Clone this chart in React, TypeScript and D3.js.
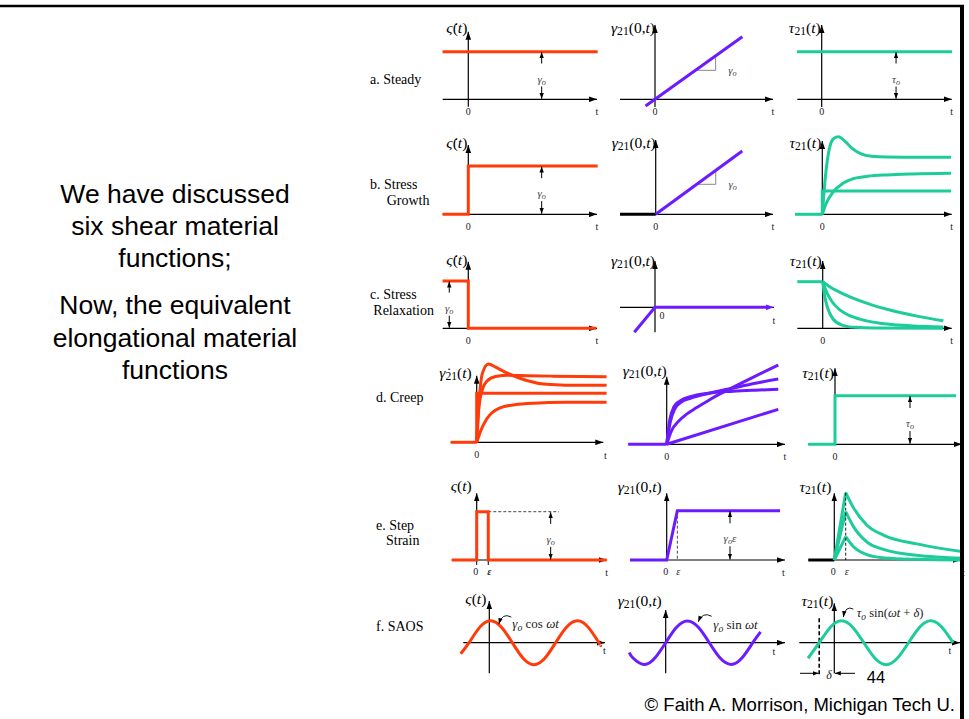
import React from 'react';
import * as d3 from 'd3';

type Pt = [number, number];
type Part = { s: string; i?: boolean; sub?: boolean };
type Lay = { ox: number; x0: number; x1: number; oy: number; yTop: number; yBot: number; H: number };

const RED = '#ff3b0a';
const PURPLE = '#6c1bff';
const GREEN = '#1dcb9b';
const SERIF = '"Liberation Serif", "Times New Roman", serif';
const SANS = '"Liberation Sans", Arial, sans-serif';

// ---------------- text ----------------
const leftBlock1 = ['We have discussed', 'six shear material', 'functions;'];
const leftBlock2 = ['Now, the equivalent', 'elongational material', 'functions'];
const copyright = '© Faith A. Morrison, Michigan Tech U.';
const pageNumber = '44';
const rowLabels = [['a. Steady'], ['b. Stress', 'Growth'], ['c. Stress', 'Relaxation'], ['d. Creep'], ['e. Step', 'Strain'], ['f. SAOS']];
const tickZero = '0';
const tickT = 't';
const tickEps = 'ε';

const lblSigDot: Part[] = [{ s: 'ς̇', i: true }, { s: '(' }, { s: 't', i: true }, { s: ')' }];
const lblSig: Part[] = [{ s: 'ς', i: true }, { s: '(' }, { s: 't', i: true }, { s: ')' }];
const lblGam: Part[] = [{ s: 'γ', i: true }, { s: '21', sub: true }, { s: '(0,' }, { s: 't', i: true }, { s: ')' }];
const lblGamDot: Part[] = [{ s: 'γ̇', i: true }, { s: '21', sub: true }, { s: '(' }, { s: 't', i: true }, { s: ')' }];
const lblTau: Part[] = [{ s: 'τ', i: true }, { s: '21', sub: true }, { s: '(' }, { s: 't', i: true }, { s: ')' }];
const lblGamO: Part[] = [{ s: 'γ', i: true }, { s: 'o', i: true, sub: true }];
const lblTauO: Part[] = [{ s: 'τ', i: true }, { s: 'o', i: true, sub: true }];
const lblGamOEps: Part[] = [{ s: 'γ', i: true }, { s: 'o', i: true, sub: true }, { s: 'ε', i: true }];
const lblCos: Part[] = [{ s: 'γ', i: true }, { s: 'o', i: true, sub: true }, { s: ' cos ' }, { s: 'ωt', i: true }];
const lblSin: Part[] = [{ s: 'γ', i: true }, { s: 'o', i: true, sub: true }, { s: ' sin ' }, { s: 'ωt', i: true }];
const lblTauSin: Part[] = [{ s: 'τ', i: true }, { s: 'o', i: true, sub: true }, { s: ' sin(' }, { s: 'ωt', i: true }, { s: ' + ' }, { s: 'δ', i: true }, { s: ')' }];
const lblDelta: Part[] = [{ s: 'δ', i: true }];

// ---------------- data ----------------
// t: 0 at origin, 10 at the arrow tip of the t axis; value 1 = reference level of each panel
const aRate: Pt[] = [[-2, 1], [10.05, 1]];
const aStrain: Pt[] = [[-0.8, -0.142], [7.4, 1.315]];
const aSlope: Pt[] = [[3.53, 0.609], [5.14, 0.609], [5.14, 0.913]];
const aStress: Pt[] = [[-1.9, 1], [10.02, 1]];

const bRate: Pt[] = [[-2, 0], [0, 0], [0, 1], [10.05, 1]];
const bStrainPre: Pt[] = [[-3.04, 0], [0, 0]];
const bStrain: Pt[] = [[0, 0], [7.38, 1.31]];
const bSlope: Pt[] = [[3.5, 0.621], [5.12, 0.621], [5.12, 0.909]];
const bStressPre: Pt[] = [[-2.11, 0], [0, 0]];
const bStressOver: Pt[] = [[0, 0], [0.25, 0.5], [0.55, 0.85], [0.9, 0.98], [1.24, 1], [1.7, 0.95], [2.3, 0.85], [3, 0.78], [3.8, 0.748], [5, 0.737], [7, 0.735], [9.95, 0.735]];
const bStressSlow: Pt[] = [[0, 0], [0.3, 0.14], [0.85, 0.29], [1.6, 0.4], [2.4, 0.46], [3.5, 0.49], [5, 0.508], [7, 0.52], [9.95, 0.528]];
const bStressStep: Pt[] = [[0, 0], [0, 0.3], [9.95, 0.3]];

const cRate: Pt[] = [[-2, 1], [0, 1], [0, 0], [9.95, 0]];
const cStrain: Pt[] = [[-1.74, -1], [0, 0], [9.6, 0]];
const cStressPre: Pt[] = [[-1.97, 1], [0, 1]];
const cStressSlow: Pt[] = [[0, 1], [0.6, 0.88], [1.5, 0.75], [3.4, 0.54], [5.5, 0.37], [7.5, 0.25], [9.35, 0.16]];
const cStressMid: Pt[] = [[0, 1], [0.3, 0.78], [0.7, 0.58], [1.35, 0.39], [2.2, 0.26], [3.4, 0.16], [5, 0.09], [7, 0.05], [9.35, 0.03]];
const cStressFast: Pt[] = [[0, 1], [0.15, 0.7], [0.4, 0.42], [0.8, 0.2], [1.5, 0.07], [2.5, 0.02], [4, 0.005], [9.35, 0]];

const dRatePre: Pt[] = [[-2.05, 0], [0, 0]];
const dRateOver: Pt[] = [[0, 0], [0.2, 0.55], [0.45, 0.88], [0.92, 1], [1.5, 0.96], [2.2, 0.9], [2.9, 0.85], [3.95, 0.79], [5.5, 0.74], [7, 0.73], [10.26, 0.73]];
const dRateSmooth: Pt[] = [[0, 0], [0.15, 0.4], [0.4, 0.65], [0.8, 0.78], [1.5, 0.84], [2.5, 0.855], [4, 0.85], [6, 0.845], [10.26, 0.838]];
const dRateStep: Pt[] = [[0, 0], [0, 0.626], [10.26, 0.626]];
const dRateSlow: Pt[] = [[0, 0], [0.3, 0.14], [0.8, 0.3], [1.84, 0.44], [3, 0.48], [4.5, 0.5], [7, 0.51], [10.26, 0.511]];
const dStrainPre: Pt[] = [[-3.25, 0], [0, 0]];
const dStrainA: Pt[] = [[0, 0], [0.4, 0.17], [1, 0.29], [1.69, 0.38], [2.5, 0.46], [3.5, 0.55], [4.5, 0.635], [5.63, 0.72], [7.5, 0.86], [9.43, 1.0]];
const dStrainB: Pt[] = [[0, 0], [0.3, 0.28], [0.7, 0.45], [1.2, 0.53], [2, 0.58], [3.5, 0.64], [5.63, 0.71], [7.5, 0.77], [9.43, 0.823]];
const dStrainC: Pt[] = [[0, 0], [0.25, 0.3], [0.6, 0.47], [1.1, 0.545], [2, 0.6], [3.5, 0.645], [5.63, 0.67], [7.5, 0.683], [9.43, 0.693]];
const dStrainD: Pt[] = [[0, 0], [9.43, 0.441]];
const dStress: Pt[] = [[-2.1, 0], [0, 0], [0, 1], [9.55, 1]];

const eRate: Pt[] = [[-1.92, 0], [0, 0], [0, 1], [0.89, 1], [0.89, 0], [10, 0]];
const eRateDash: Pt[] = [[0.89, 1], [6.33, 1]];
const eStrain: Pt[] = [[-3.1, 0], [0, 0], [0.9, 1], [9.58, 1]];
const eStressPre: Pt[] = [[-2.05, 0], [0, 0]];
const eStressHigh: Pt[] = [[0.9, 1], [1.5, 0.78], [2.56, 0.52], [4, 0.36], [6.5, 0.24], [10.18, 0.124]];
const eStressMid: Pt[] = [[0.9, 0.718], [1.5, 0.5], [2.56, 0.27], [4, 0.15], [6.5, 0.07], [10.18, 0.025]];
const eStressLow: Pt[] = [[0.9, 0.347], [1.5, 0.2], [2.56, 0.08], [4, 0.03], [6.5, 0.01], [10.18, 0]];

const fRate: Pt[] = [[-2.47, -0.5], [-1.75, 0], [-0.82, 0.707], [0.12, 1], [1.05, 0.707], [1.99, 0], [2.92, -0.707], [3.86, -1], [4.8, -0.707], [5.73, 0], [6.67, 0.707], [7.6, 1], [8.54, 0.707], [9.47, 0], [9.62, -0.12]];
const fStrain: Pt[] = [[-3.05, -0.45], [-2.74, -0.707], [-1.82, -1], [-0.91, -0.707], [0, 0], [0.91, 0.707], [1.82, 1], [2.74, 0.707], [3.65, 0], [4.56, -0.707], [5.48, -1], [6.39, -0.707], [7.3, 0], [7.95, 0.5]];
const fStress: Pt[] = [[-2.09, -0.707], [-1.2, 0], [-0.31, 0.707], [0.575, 1], [1.46, 0.707], [2.35, 0], [3.24, -0.707], [4.125, -1], [5.01, -0.707], [5.9, 0], [6.79, 0.707], [7.675, 1], [8.56, 0.707], [9.45, 0]];
const fDelayT = -1.2;

// ---------------- layout ----------------
const L: Record<string, Lay> = {
  a1: { ox: 468.3, x0: 442.7, x1: 597, oy: 99.3, yTop: 31.7, yBot: 106.7, H: 47.6 },
  a2: { ox: 655, x0: 620, x1: 773, oy: 99.3, yTop: 25, yBot: 107, H: 47.6 },
  a3: { ox: 821.7, x0: 797.3, x1: 951.7, oy: 99.3, yTop: 25, yBot: 107, H: 47.6 },
  b1: { ox: 468.3, x0: 442.7, x1: 597, oy: 214.3, yTop: 145, yBot: 214.3, H: 48.3 },
  b2: { ox: 655.7, x0: 620, x1: 773, oy: 214.3, yTop: 140, yBot: 214.3, H: 48.3 },
  b3: { ox: 822.3, x0: 795, x1: 951.7, oy: 214.3, yTop: 141, yBot: 214.3, H: 77.6 },
  c1: { ox: 468.3, x0: 442.7, x1: 597, oy: 328.3, yTop: 261.7, yBot: 328.3, H: 47.3 },
  c2: { ox: 655, x0: 620, x1: 774, oy: 307.3, yTop: 261, yBot: 332.3, H: 25 },
  c3: { ox: 822.7, x0: 797.3, x1: 951.7, oy: 328.3, yTop: 261, yBot: 328.3, H: 46.6 },
  d1: { ox: 476.7, x0: 450.7, x1: 603.3, oy: 442.3, yTop: 375.7, yBot: 442.3, H: 78.3 },
  d2: { ox: 666.7, x0: 628.3, x1: 785, oy: 444.3, yTop: 376.7, yBot: 444.3, H: 79.3 },
  d3: { ox: 835, x0: 808.3, x1: 961.7, oy: 444.3, yTop: 368.3, yBot: 444.3, H: 48.6 },
  e1: { ox: 476.7, x0: 451.7, x1: 606.7, oy: 560, yTop: 493.3, yBot: 560, H: 48.3 },
  e2: { ox: 666.7, x0: 630, x1: 785, oy: 560, yTop: 493.3, yBot: 560, H: 49.3 },
  e3: { ox: 834.3, x0: 808.3, x1: 961, oy: 560, yTop: 493.3, yBot: 560, H: 67.3 },
  f1: { ox: 489.3, x0: 463.3, x1: 605, oy: 642.7, yTop: 601, yBot: 673.3, H: 22 },
  f2: { ox: 665.7, x0: 629.3, x1: 785, oy: 642.7, yTop: 610, yBot: 673.3, H: 21.7 },
  f3: { ox: 834.3, x0: 799.3, x1: 960, oy: 642.7, yTop: 603.3, yBot: 673.3, H: 22 },
};

const mk = (l: Lay) => {
  const x = d3.scaleLinear().domain([0, 10]).range([l.ox, l.x1]);
  const y = d3.scaleLinear().domain([0, 1]).range([l.oy, l.oy - l.H]);
  const ln = (pts: Pt[], curve: d3.CurveFactory = d3.curveLinear) =>
    d3.line<Pt>().x(d => x(d[0])).y(d => y(d[1])).curve(curve)(pts) ?? '';
  return { l, x, y, ln };
};

function MathText({ x, y, parts, size, anchor = 'end', fill = '#000' }: { x: number; y: number; parts: Part[]; size: number; anchor?: string; fill?: string }) {
  return (
    <text x={x} y={y} fontFamily={SERIF} fontSize={size} textAnchor={anchor} dominantBaseline="central" fill={fill}>
      {parts.map((p, i) => {
        const prevSub = i > 0 && !!parts[i - 1].sub;
        let dy = 0;
        if (p.sub && !prevSub) dy = size * 0.28;
        if (!p.sub && prevSub) dy = -size * 0.28;
        return (
          <tspan key={i} dy={dy || undefined} fontStyle={p.i ? 'italic' : 'normal'} fontSize={p.sub ? size * 0.75 : undefined}>
            {p.s}
          </tspan>
        );
      })}
    </text>
  );
}

const Tick = ({ x, y, s, size = 10, italic = false, bold = false }: { x: number; y: number; s: string; size?: number; italic?: boolean; bold?: boolean }) => (
  <text x={x} y={y} fontFamily={SERIF} fontSize={size} textAnchor="middle" dominantBaseline="central" fill="#222" fontStyle={italic ? 'italic' : 'normal'} fontWeight={bold ? 'bold' : 'normal'}>
    {s}
  </text>
);

const Axes = ({ l, xMarker = 'ah' }: { l: Lay; xMarker?: string }) => (
  <g stroke="#000" strokeWidth={1.2} fill="none">
    <line x1={l.x0} y1={l.oy} x2={l.x1} y2={l.oy} markerEnd={`url(#${xMarker})`} />
    <line x1={l.ox} y1={l.yBot} x2={l.ox} y2={l.yTop} markerEnd="url(#ah)" />
  </g>
);

const Curve = ({ d, color, w = 3 }: { d: string; color: string; w?: number }) => (
  <path d={d} fill="none" stroke={color} strokeWidth={w} strokeLinejoin="miter" />
);

const Dbl = ({ x, y1, y2, parts, size = 11 }: { x: number; y1: number; y2: number; parts: Part[]; size?: number }) => {
  const mid = (y1 + y2) / 2;
  return (
    <g>
      <g stroke="#000" strokeWidth={1}>
        <line x1={x} y1={mid - 12} x2={x} y2={y1 + 0.5} markerEnd="url(#ahs)" />
        <line x1={x} y1={mid + 11} x2={x} y2={y2 - 0.5} markerEnd="url(#ahs)" />
      </g>
      <MathText x={x} y={mid + 3} parts={parts} size={size} anchor="middle" fill="#444" />
    </g>
  );
};

function Frame({ p, label, labelY, labelDx = 1, zero = true, zeroPos, tPos, xMarker }: { p: ReturnType<typeof mk>; label: Part[]; labelY: number; labelDx?: number; zero?: boolean; zeroPos?: [number, number]; tPos?: [number, number]; xMarker?: string }) {
  const l = p.l;
  return (
    <g>
      <Axes l={l} xMarker={xMarker} />
      <MathText x={l.ox - labelDx} y={labelY} parts={label} size={15.5} />
      {zero && <Tick x={zeroPos ? zeroPos[0] : l.ox} y={zeroPos ? zeroPos[1] : l.oy + 12.5} s={tickZero} />}
      <Tick x={tPos ? tPos[0] : l.x1} y={tPos ? tPos[1] : l.oy + 12.5} s={tickT} />
    </g>
  );
}

export default function App() {
  const P: Record<string, ReturnType<typeof mk>> = {};
  Object.keys(L).forEach(k => (P[k] = mk(L[k])));
  const mono = d3.curveMonotoneX;
  const nat = d3.curveNatural;

  const rowLabelPos: [number, number, number][] = [
    [370, 79, 0], [370, 184.3, 16.7], [370, 294.3, 3.3], [376, 397.7, 0], [376, 525, 10], [376, 626.7, 0],
  ];

  const f1t = [P.f1.x(0.78), P.f1.y(0.8)];
  const f2t = [P.f2.x(2.68), P.f2.y(0.94)];
  const f3t = [P.f3.x(0.72), P.f3.y(1.12)];
  const fDx = P.f3.x(fDelayT);

  return (
    <svg width={969} height={719} style={{ position: 'absolute', left: 0, top: 0, background: '#fff' }}>
      <defs>
        <marker id="ah" viewBox="0 0 8 6" refX="8" refY="3" markerWidth="8" markerHeight="6" markerUnits="userSpaceOnUse" orient="auto">
          <path d="M0,0.2L8,3L0,5.8z" fill="#000" />
        </marker>
        <marker id="ahp" viewBox="0 0 8 6" refX="8" refY="3" markerWidth="8" markerHeight="6" markerUnits="userSpaceOnUse" orient="auto">
          <path d="M0,0.2L8,3L0,5.8z" fill={PURPLE} />
        </marker>
        <marker id="ahs" viewBox="0 0 6 5" refX="6" refY="2.5" markerWidth="6" markerHeight="5" markerUnits="userSpaceOnUse" orient="auto">
          <path d="M0,0.3L6,2.5L0,4.7z" fill="#000" />
        </marker>
      </defs>
      <rect x={0} y={0} width={969} height={719} fill="#fff" />

      {/* left text */}
      <g fontFamily={SANS} fontSize={26.5} textAnchor="middle" fill="#000">
        {leftBlock1.map((s, i) => (
          <text key={s} x={175} y={194 + i * 32} dominantBaseline="central">{s}</text>
        ))}
        {leftBlock2.map((s, i) => (
          <text key={s} x={175} y={305 + i * 32.5} dominantBaseline="central">{s}</text>
        ))}
      </g>

      {/* row labels */}
      <g fontFamily={SERIF} fontSize={14} fill="#000">
        {rowLabels.map((lines, r) =>
          lines.map((s, j) => (
            <text key={s} x={rowLabelPos[r][0] + (j ? rowLabelPos[r][2] : 0)} y={rowLabelPos[r][1] + j * 15.7} dominantBaseline="central">{s}</text>
          ))
        )}
      </g>

      {/* ---------- row a ---------- */}
      <Frame p={P.a1} label={lblSigDot} labelY={27} />
      <Curve d={P.a1.ln(aRate)} color={RED} />
      <Dbl x={P.a1.x(5.7)} y1={P.a1.y(1)} y2={P.a1.y(0)} parts={lblGamO} />

      <Frame p={P.a2} label={lblGam} labelY={27} labelDx={0} />
      <path d={P.a2.ln(aSlope)} fill="none" stroke="#888" strokeWidth={1} />
      <Curve d={P.a2.ln(aStrain)} color={PURPLE} />
      <MathText x={P.a2.x(6.2)} y={P.a2.y(0.609)} parts={lblGamO} size={11} anchor="start" fill="#444" />

      <Frame p={P.a3} label={lblTau} labelY={27} />
      <Curve d={P.a3.ln(aStress)} color={GREEN} />
      <Dbl x={P.a3.x(5.72)} y1={P.a3.y(1)} y2={P.a3.y(0)} parts={lblTauO} />

      {/* ---------- row b ---------- */}
      <Frame p={P.b1} label={lblSigDot} labelY={141.5} />
      <Curve d={P.b1.ln(bRate)} color={RED} />
      <Dbl x={P.b1.x(5.7)} y1={P.b1.y(1)} y2={P.b1.y(0)} parts={lblGamO} />

      <Frame p={P.b2} label={lblGam} labelY={141.5} labelDx={0} />
      <Curve d={P.b2.ln(bStrainPre)} color="#000" />
      <path d={P.b2.ln(bSlope)} fill="none" stroke="#888" strokeWidth={1} />
      <Curve d={P.b2.ln(bStrain)} color={PURPLE} />
      <MathText x={P.b2.x(6.2)} y={P.b2.y(0.621)} parts={lblGamO} size={11} anchor="start" fill="#444" />

      <Frame p={P.b3} label={lblTau} labelY={141.5} />
      <Curve d={P.b3.ln(bStressPre)} color={GREEN} />
      <Curve d={P.b3.ln(bStressStep)} color={GREEN} />
      <Curve d={P.b3.ln(bStressSlow, mono)} color={GREEN} />
      <Curve d={P.b3.ln(bStressOver, mono)} color={GREEN} />

      {/* ---------- row c ---------- */}
      <Frame p={P.c1} label={lblSigDot} labelY={259} />
      <Curve d={P.c1.ln(cRate)} color={RED} />
      <Dbl x={P.c1.x(-1.48)} y1={P.c1.y(1)} y2={P.c1.y(0)} parts={lblGamO} />

      <Frame p={P.c2} label={lblGam} labelY={260} labelDx={0} zeroPos={[662, 315]} tPos={[774, 320]} xMarker="ahp" />
      <Curve d={P.c2.ln(cStrain)} color={PURPLE} />

      <Frame p={P.c3} label={lblTau} labelY={260} />
      <Curve d={P.c3.ln(cStressPre)} color={GREEN} />
      <Curve d={P.c3.ln(cStressSlow, mono)} color={GREEN} />
      <Curve d={P.c3.ln(cStressMid, mono)} color={GREEN} />
      <Curve d={P.c3.ln(cStressFast, mono)} color={GREEN} />

      {/* ---------- row d ---------- */}
      <Frame p={P.d1} label={lblGamDot} labelY={371.7} labelDx={5} tPos={[P.d1.l.x1 + 2, 455]} />
      <Curve d={P.d1.ln(dRatePre)} color={RED} />
      <Curve d={P.d1.ln(dRateStep)} color={RED} />
      <Curve d={P.d1.ln(dRateSlow, mono)} color={RED} />
      <Curve d={P.d1.ln(dRateSmooth, mono)} color={RED} />
      <Curve d={P.d1.ln(dRateOver, mono)} color={RED} />

      <Frame p={P.d2} label={lblGam} labelY={370} labelDx={0} />
      <Curve d={P.d2.ln(dStrainPre)} color={PURPLE} />
      <Curve d={P.d2.ln(dStrainD)} color={PURPLE} />
      <Curve d={P.d2.ln(dStrainC, mono)} color={PURPLE} />
      <Curve d={P.d2.ln(dStrainB, mono)} color={PURPLE} />
      <Curve d={P.d2.ln(dStrainA, mono)} color={PURPLE} />

      <Frame p={P.d3} label={lblTau} labelY={371.7} tPos={[962.7, 455]} />
      <Curve d={P.d3.ln(dStress)} color={GREEN} />
      <Dbl x={P.d3.x(5.92)} y1={P.d3.y(1)} y2={P.d3.y(0)} parts={lblTauO} />

      {/* ---------- row e ---------- */}
      <Frame p={P.e1} label={lblSig} labelY={485} labelDx={5} zero={false} />
      <g stroke="#000" strokeWidth={1}>
        <line x1={P.e1.x(0)} y1={P.e1.l.oy} x2={P.e1.x(0)} y2={P.e1.l.oy + 5} />
        <line x1={P.e1.x(0.89)} y1={P.e1.l.oy} x2={P.e1.x(0.89)} y2={P.e1.l.oy + 5} />
      </g>
      <path d={P.e1.ln(eRateDash)} fill="none" stroke="#333" strokeWidth={0.9} strokeDasharray="3,2" />
      <Curve d={P.e1.ln(eRate)} color={RED} />
      <Dbl x={P.e1.x(5.69)} y1={P.e1.y(1)} y2={P.e1.y(0)} parts={lblGamO} />
      <Tick x={P.e1.x(0) - 1} y={571.7} s={tickZero} />
      <Tick x={P.e1.x(0.89) + 1} y={571.7} s={tickEps} italic bold />

      <Frame p={P.e2} label={lblGam} labelY={486} labelDx={5} zero={false} tPos={[783.3, 572.5]} />
      <line x1={P.e2.x(0.9)} y1={P.e2.y(1)} x2={P.e2.x(0.9)} y2={P.e2.y(0)} stroke="#333" strokeWidth={0.9} strokeDasharray="3,2" />
      <Curve d={P.e2.ln(eStrain)} color={PURPLE} />
      <Dbl x={P.e2.x(5.35)} y1={P.e2.y(1)} y2={P.e2.y(0)} parts={lblGamOEps} />
      <Tick x={P.e2.x(0) - 1} y={571.7} s={tickZero} />
      <Tick x={P.e2.x(0.9) + 1} y={571.7} s={tickEps} italic />

      <Frame p={P.e3} label={lblTau} labelY={486} labelDx={3} zero={false} tPos={[963.3, 572.5]} />
      <Curve d={P.e3.ln(eStressPre)} color="#000" />
      {[eStressLow, eStressMid, eStressHigh].map((s, i) => (
        <g key={i}>
          <Curve d={P.e3.ln([[0, 0], s[0]])} color={GREEN} />
          <Curve d={P.e3.ln(s, mono)} color={GREEN} />
        </g>
      ))}
      <line x1={P.e3.x(0.9)} y1={P.e3.y(1)} x2={P.e3.x(0.9)} y2={P.e3.y(0)} stroke="#000" strokeWidth={0.9} strokeDasharray="3,2" />
      <Tick x={P.e3.x(0) - 1} y={571.7} s={tickZero} />
      <Tick x={P.e3.x(0.9) + 1} y={571.7} s={tickEps} italic />

      {/* ---------- row f ---------- */}
      <Frame p={P.f1} label={lblSig} labelY={598.3} labelDx={3} zero={false} tPos={[604.3, 650]} />
      <Curve d={P.f1.ln(fRate, nat)} color={RED} />
      <path d={`M${f1t[0] + 13},${f1t[1] - 8} Q${f1t[0] + 4},${f1t[1] - 13} ${f1t[0] + 0.5},${f1t[1] - 1}`} fill="none" stroke="#000" strokeWidth={0.9} markerEnd="url(#ahs)" />
      <MathText x={f1t[0] + 14} y={f1t[1] - 2} parts={lblCos} size={13} anchor="start" fill="#222" />

      <Frame p={P.f2} label={lblGam} labelY={600} labelDx={4} zero={false} tPos={[774, 651]} />
      <Curve d={P.f2.ln(fStrain, nat)} color={PURPLE} />
      <path d={`M${f2t[0] + 14},${f2t[1] - 6} Q${f2t[0] + 5},${f2t[1] - 11} ${f2t[0] + 0.5},${f2t[1] - 0.5}`} fill="none" stroke="#000" strokeWidth={0.9} markerEnd="url(#ahs)" />
      <MathText x={f2t[0] + 15.6} y={f2t[1] + 2} parts={lblSin} size={13} anchor="start" fill="#222" />

      <Frame p={P.f3} label={lblTau} labelY={600} labelDx={1} zero={false} tPos={[950, 650.7]} />
      <line x1={fDx} y1={618.3} x2={fDx} y2={674.3} stroke="#000" strokeWidth={1.6} strokeDasharray="4,2.5" />
      <Curve d={P.f3.ln(fStress, nat)} color={GREEN} />
      <path d={`M${f3t[0] + 10},${f3t[1] - 9} Q${f3t[0] + 2},${f3t[1] - 13} ${f3t[0]},${f3t[1] - 1}`} fill="none" stroke="#000" strokeWidth={0.9} markerEnd="url(#ahs)" />
      <MathText x={f3t[0] + 13.5} y={f3t[1] - 5} parts={lblTauSin} size={12.5} anchor="start" fill="#222" />
      <g stroke="#000" strokeWidth={1}>
        <line x1={800} y1={673.3} x2={fDx - 0.5} y2={673.3} markerEnd="url(#ahs)" />
        <line x1={855} y1={673.3} x2={P.f3.l.ox + 0.5} y2={673.3} markerEnd="url(#ahs)" />
      </g>
      <MathText x={829} y={675} parts={lblDelta} size={12} anchor="middle" fill="#222" />

      {/* page number & copyright */}
      <text x={876} y={677} fontFamily={SANS} fontSize={16.5} textAnchor="middle" dominantBaseline="central" fill="#000">{pageNumber}</text>
      <text x={955} y={704} fontFamily={SANS} fontSize={18.5} textAnchor="end" dominantBaseline="central" fill="#000">{copyright}</text>

      {/* slide frame */}
      <line x1={0} y1={6} x2={964} y2={6} stroke="#000" strokeWidth={2.5} />
      <line x1={962} y1={5} x2={962} y2={719} stroke="#000" strokeWidth={4} />
    </svg>
  );
}
